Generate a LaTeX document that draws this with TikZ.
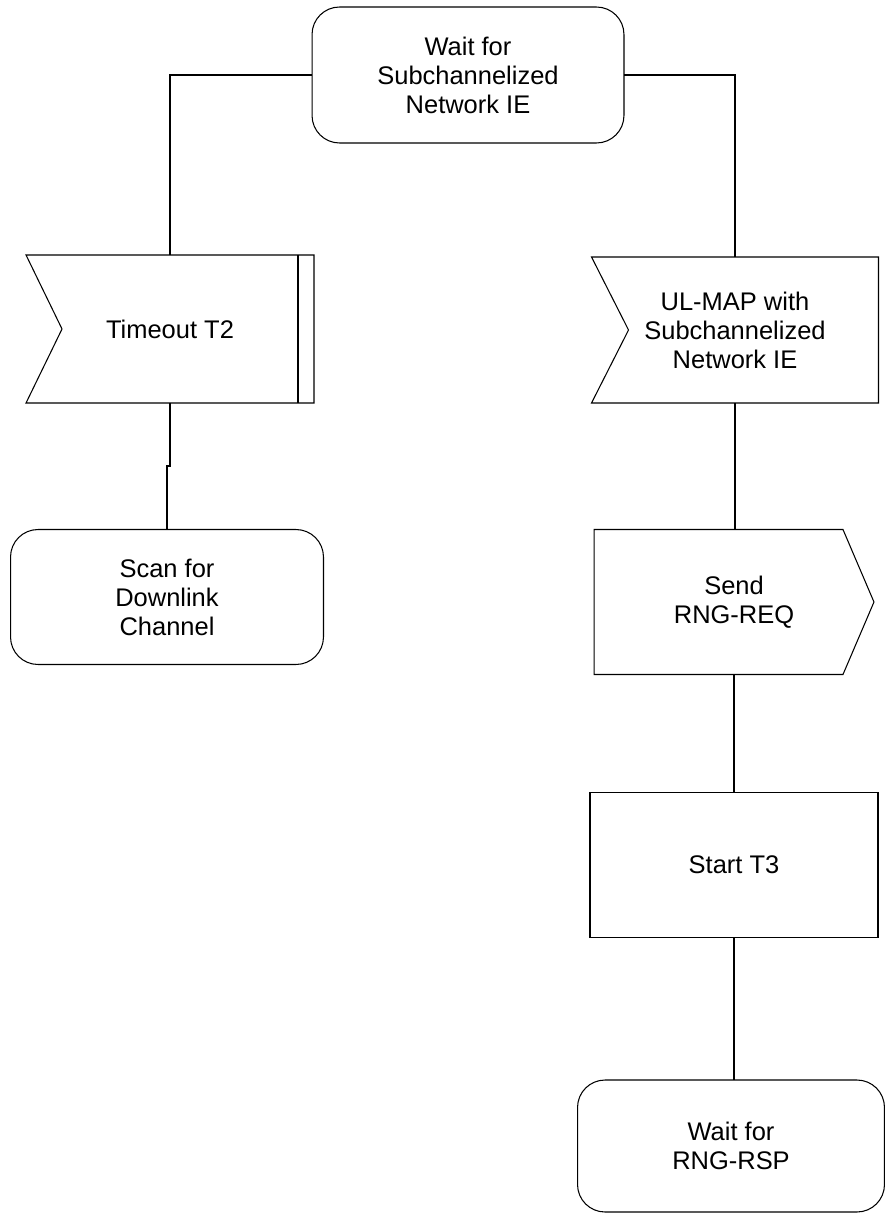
\documentclass[tikz,border=0pt]{standalone}
\usepackage{fontspec}
\setmainfont{Liberation Sans}
\usepackage{tikz}

\tikzset{
  txt/.style={align=center, font=\fontsize{14.5}{16.5}\selectfont, inner sep=0pt, outer sep=0pt},
  waitstate/.style={txt, draw, line width=0.6pt, rounded corners=0.55cm},
  sigbox/.style={txt},
  taskbox/.style={txt, draw, line width=0.9pt},
  wire/.style={line width=0.6pt}
}

\begin{document}
\begin{tikzpicture}[x=0.02cm, y=-0.02cm]
    \useasboundingbox (0,0) rectangle (885,1213);

    \node[waitstate, minimum width=6.24cm, minimum height=2.72cm] (wsub)  at (468,75)   {Wait for\\Subchannelized\\Network IE};
    \node[sigbox,    minimum width=5.76cm, minimum height=2.96cm] (tmo)   at (170,329)  {Timeout T2};
    \node[waitstate, minimum width=6.26cm, minimum height=2.70cm] (scan)  at (167,597)  {Scan for\\Downlink\\Channel};
    \node[sigbox,    minimum width=5.74cm, minimum height=2.92cm] (ulmap) at (735,330)  {UL-MAP with\\Subchannelized\\Network IE};
    \node[sigbox,    minimum width=5.60cm, minimum height=2.90cm] (send)  at (734,602)  {Send\\RNG-REQ};
    \node[taskbox,   minimum width=5.76cm, minimum height=2.90cm] (start) at (734,865)  {Start T3};
    \node[waitstate, minimum width=6.14cm, minimum height=2.64cm] (wrsp)  at (731,1146) {Wait for\\RNG-RSP};

    \draw[wire] (tmo.north west) -- (tmo.north east) -- (tmo.south east) -- (tmo.south west) -- ([xshift=0.72cm]tmo.west) -- cycle;
    \draw[wire] ([xshift=-0.32cm]tmo.north east) -- ([xshift=-0.32cm]tmo.south east);
    \draw[wire] (ulmap.north west) -- (ulmap.north east) -- (ulmap.south east) -- (ulmap.south west) -- ([xshift=0.74cm]ulmap.west) -- cycle;
    \draw[wire] (send.north west) -- ([xshift=-0.62cm]send.north east) -- (send.east) -- ([xshift=-0.62cm]send.south east) -- (send.south west) -- cycle;

    \draw[wire] (wsub.west) -| (tmo.north);
    \draw[wire] (wsub.east) -| (ulmap.north);
    \draw[wire] (tmo.south) -- ++(0,63) -| (scan.north);
    \draw[wire] (ulmap.south) -- (ulmap.south |- send.north);
    \draw[wire] (send.south) -- (start.north);
    \draw[wire] (start.south) -- (start.south |- wrsp.north);
\end{tikzpicture}
\end{document}
